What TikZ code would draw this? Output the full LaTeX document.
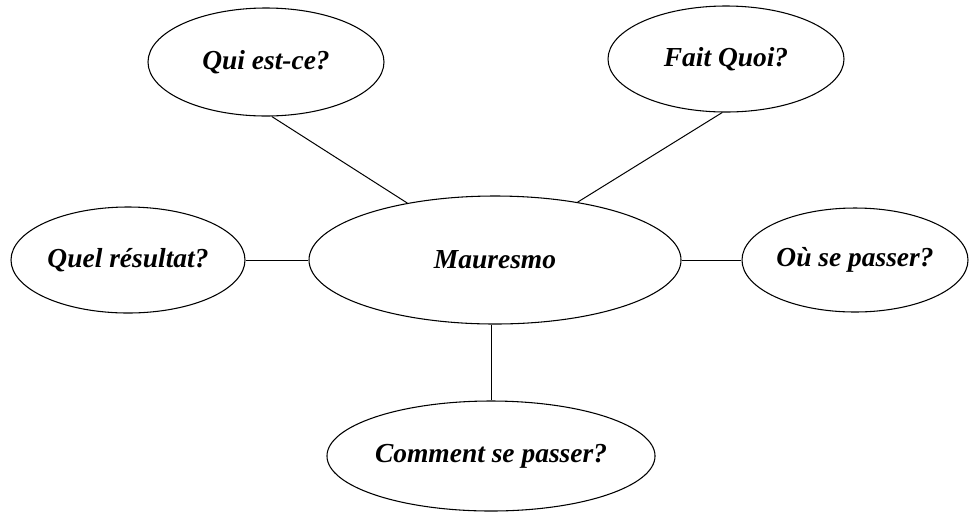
\documentclass[tikz,border=0pt]{standalone}
\usepackage{fontspec}
\setmainfont{Liberation Serif}
\usetikzlibrary{shapes.geometric}
\begin{document}
\begin{tikzpicture}[x=0.75pt,y=-0.75pt,
  bubble/.style={ellipse,draw,line width=0.8pt,inner sep=0pt,
    font=\fontsize{20.6pt}{24pt}\selectfont\bfseries\itshape},
  link/.style={line width=0.75pt}]
  \useasboundingbox (0,0) rectangle (970,512);
  % central topic and its questions
  \node[bubble,minimum width=279pt,minimum height=96pt] (m) at (495,260) {Mauresmo};
  \node[bubble,minimum width=177pt,minimum height=81pt] (qui) at (266,62) {Qui est-ce?};
  \node[bubble,minimum width=177pt,minimum height=79.5pt] (fait) at (726,59) {Fait Quoi?};
  \node[bubble,minimum width=175.5pt,minimum height=79.5pt] (quel) at (128,260) {Quel résultat?};
  \node[bubble,minimum width=169.5pt,minimum height=78pt] (ou) at (855,260) {Où se passer?};
  \node[bubble,minimum width=228pt,minimum height=82.5pt] (comment) at (491,456) {Comment se passer?};
  % spokes
  \draw[link] (qui.-84) -- (m.147);
  \draw[link] (fait.266) -- (m.35.6);
  \draw[link] (quel.east) -- (m.west);
  \draw[link] (m.east) -- (ou.west);
  \draw[link] (m.south -| comment.north) -- (comment.north);
\end{tikzpicture}
\end{document}
